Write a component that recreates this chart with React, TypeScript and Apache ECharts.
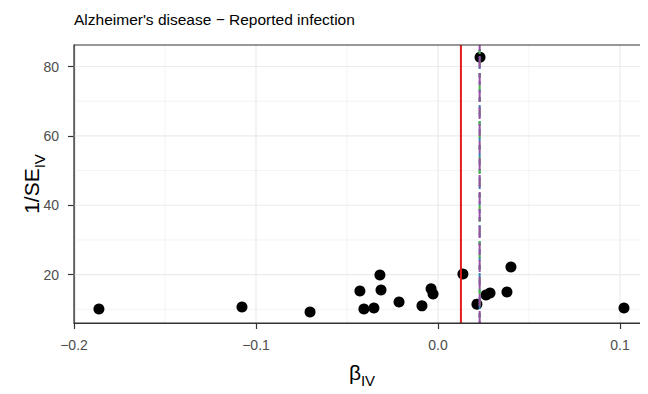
import React, { useEffect, useRef } from "react";
import * as echarts from "echarts";

const betaIV = [-0.1863, -0.1077, -0.0703, -0.0429, -0.0407, -0.0352, -0.0313, -0.0319, -0.0214, -0.0088, -0.0038, -0.0027, 0.0137, 0.0214, 0.0231, 0.0264, 0.0286, 0.0379, 0.0401, 0.1022];
const invSE = [10.1, 10.7, 9.2, 15.3, 10.1, 10.4, 15.6, 19.9, 12.1, 11.0, 15.9, 14.4, 20.2, 11.5, 82.7, 14.1, 14.7, 15.0, 22.2, 10.4];

const xTicks = [-0.2, -0.1, 0.0, 0.1];
const xMinor = [-0.15, -0.05, 0.05];
const yTicks = [20, 40, 60, 80];
const yMinor = [10, 30, 50, 70];

const estNames = ["IVW", "MR-Egger", "Weighted median", "Weighted mode"];
const estValues = [0.0126, 0.0229, 0.0229, 0.0229];
const estColors = ["#e41a1c", "#377eb8", "#4daf4a", "#984ea3"];

const xRange = [-0.2, 0.1165];
const yRange = [6.06, 86.2];

const FONT = "Liberation Sans, Arial, sans-serif";

const fmtX = (v: number) => {
  if (Math.abs(v) < 1e-9) return "0.0";
  return (Math.round(v * 10) / 10).toFixed(1).replace("-", "\u2212");
};

export default function App() {
  const ref = useRef<HTMLDivElement>(null);
  useEffect(() => {
    if (!ref.current) return;
    const chart = echarts.init(ref.current, null, { renderer: "svg" });
    const dashes: any[] = ["solid", [4, 4], [5, 7], [12, 5]];
    const offsets = [0, 2, 7, 0];
    const vline = (v: number) => [[v, yRange[0]], [v, yRange[1]]];
    const hline = (v: number) => [[xRange[0], v], [xRange[1], v]];
    const gridSeries = (pts: number[][], w: number) => ({
      type: "line",
      data: pts,
      silent: true,
      symbol: "none",
      z: 1,
      lineStyle: { color: "#ebebeb", width: w, type: "solid" },
    });
    const nameRich = (big: number, small: number) => ({
      b: { fontSize: big, color: "#000", fontFamily: FONT, lineHeight: big + 4, verticalAlign: "bottom" },
      s: { fontSize: small, color: "#000", fontFamily: FONT, lineHeight: big + 4, verticalAlign: "bottom", padding: [0, 0, -5, 0] },
    });
    const option: any = {
      animation: false,
      backgroundColor: "#ffffff",
      textStyle: { fontFamily: FONT },
      title: {
        text: "Alzheimer's disease \u2212 Reported infection",
        left: 74,
        top: 11,
        padding: 0,
        textStyle: { fontSize: 15.5, fontWeight: "normal", color: "#000000", fontFamily: FONT },
      },
      grid: {
        left: 74,
        right: -2,
        top: 45,
        bottom: 71,
        containLabel: false,
        outerBoundsMode: "none",
        show: true,
        borderColor: "#333333",
        borderWidth: 1.2,
        backgroundColor: "transparent",
        z: 10,
      },
      xAxis: {
        type: "value",
        min: xRange[0],
        max: xRange[1],
        interval: 0.1,
        name: "{b|\u03b2}{s|IV}",
        nameLocation: "middle",
        nameGap: 35,
        nameTextStyle: { rich: nameRich(21, 15) },
        axisLine: { show: true, onZero: false, lineStyle: { color: "#333333", width: 1.2 } },
        axisTick: { show: true, length: 6, lineStyle: { color: "#333333", width: 1.2 } },
        axisLabel: { show: true, showMaxLabel: false, formatter: fmtX, color: "#4d4d4d", fontSize: 14, margin: 15, fontFamily: FONT },
        splitLine: { show: false },
      },
      yAxis: {
        type: "value",
        min: yRange[0],
        max: yRange[1],
        name: "{b|1/SE}{s|IV}",
        nameLocation: "middle",
        nameRotate: 90,
        nameGap: 32,
        nameMoveOverlap: false,
        nameTextStyle: { rich: nameRich(21, 15) },
        axisLine: { show: true, onZero: false, lineStyle: { color: "#333333", width: 1.2 } },
        axisTick: { show: true, customValues: yTicks, length: 6, lineStyle: { color: "#333333", width: 1.2 } },
        axisLabel: { show: true, customValues: yTicks, color: "#4d4d4d", fontSize: 14, margin: 15, fontFamily: FONT },
        splitLine: { show: false },
      },
      series: [
        ...xMinor.map((v) => gridSeries(vline(v), 0.6)),
        ...xTicks.map((v) => gridSeries(vline(v), 1.2)),
        ...yMinor.map((v) => gridSeries(hline(v), 0.6)),
        ...yTicks.map((v) => gridSeries(hline(v), 1.2)),
        ...estNames.map((n, i) => ({
          type: "line",
          name: n,
          data: vline(estValues[i]),
          symbol: "none",
          silent: true,
          z: 3 + i,
          lineStyle: { color: estColors[i], width: 2, type: dashes[i], dashOffset: offsets[i] },
        })),
        {
          type: "scatter",
          name: "SNPs",
          data: betaIV.map((b, i) => [b, invSE[i]]),
          symbol: "circle",
          symbolSize: 11,
          itemStyle: { color: "#000000", opacity: 1 },
          z: 2,
        },
      ],
    };
    chart.setOption(option);
    return () => chart.dispose();
  }, []);
  return <div ref={ref} style={{ width: 648, height: 394, margin: -8 }} />;
}
